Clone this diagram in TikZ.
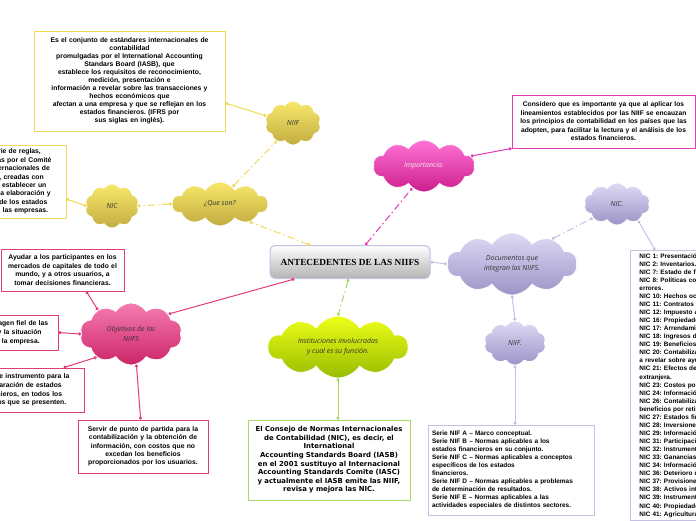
\documentclass[tikz,border=0pt]{standalone}
\usepackage{fontspec}
\setmainfont{Liberation Sans}
\newfontfamily\titulofont{Liberation Serif}
\newfontfamily\verdanafont{DejaVu Sans}
\newfontfamily\nubefont{Open Sans}
\usetikzlibrary{shapes.symbols,arrows.meta,calc}

\definecolor{amarillo}{HTML}{F2DA55}
\definecolor{amarilloA}{HTML}{F8E86A}
\definecolor{amarilloB}{HTML}{C2AC40}
\definecolor{magenta}{HTML}{E23AB8}
\definecolor{magentaA}{HTML}{FF74D6}
\definecolor{magentaB}{HTML}{CC1E8C}
\definecolor{rosa}{HTML}{E33A78}
\definecolor{rosaA}{HTML}{F57CB0}
\definecolor{rosaB}{HTML}{CC2468}
\definecolor{verde}{HTML}{A8D868}
\definecolor{verdeA}{HTML}{EEFF18}
\definecolor{verdeB}{HTML}{98BC00}
\definecolor{lila}{HTML}{C6C0E2}
\definecolor{lilaA}{HTML}{DEDAF4}
\definecolor{lilaB}{HTML}{9C94C8}

\tikzset{
  nube/.style={cloud, cloud puffs=10, cloud puff arc=115, cloud ignores aspect,
    inner sep=0pt, align=center, draw=white, line width=0.8pt, text=black!80,
    font=\nubefont\itshape\fontsize{7}{10}\selectfont},
  caja/.style={draw, line width=0.9pt, fill=white, align=center, inner sep=0pt,
    font=\bfseries\fontsize{6.8}{8}\selectfont},
  enlace/.style={line width=1pt, {Circle[length=3pt]}-{Circle[length=3pt]}},
  rayado/.style={enlace, dash pattern=on 7pt off 3pt on 1.5pt off 3pt},
}

\begin{document}
\frenchspacing
\begin{tikzpicture}[x=1pt, y=-1pt]

  %% ---- nodo central ----
  \node[rounded corners=5pt, draw=lila, line width=1pt, top color=white, bottom color=black!30,
        minimum width=160pt, minimum height=33pt,
        font=\titulofont\bfseries\fontsize{9.3}{11}\selectfont] (main) at (350,262) {ANTECEDENTES DE LAS NIIFS};

  %% ---- nubes ----
  \node[nube, top color=amarilloA, bottom color=amarilloB, minimum width=96pt, minimum height=44pt] (queson) at (220,204) {¿Que son?};
  \node[nube, top color=amarilloA, bottom color=amarilloB, minimum width=56pt, minimum height=44pt] (niif) at (293,123) {NIIF};
  \node[nube, top color=amarilloA, bottom color=amarilloB, minimum width=54pt, minimum height=44pt] (nic) at (112,206) {NIC};
  \node[nube, top color=magentaA, bottom color=magentaB, text=white!90!magenta, minimum width=102pt, minimum height=52pt] (importancia) at (424,166) {Importancia.};
  \node[nube, top color=rosaA, bottom color=rosaB, minimum width=102pt, minimum height=62pt] (objetivos) at (131,334) {Objetivos de las\\ NIIFS};
  \node[nube, top color=verdeA, bottom color=verdeB, minimum width=140pt, minimum height=62pt] (institu) at (338,347) {Instituciones involucradas\\ y cual es su función.};
  \node[nube, top color=lilaA, bottom color=lilaB, minimum width=130pt, minimum height=62pt] (documentos) at (512,264) {Documentos que\\ integran las NIIFS.};
  \node[nube, top color=lilaA, bottom color=lilaB, minimum width=66pt, minimum height=42pt] (nicdoc) at (617,204) {NIC.};
  \node[nube, top color=lilaA, bottom color=lilaB, minimum width=62pt, minimum height=44pt] (niifdoc) at (515,343) {NIIF.};

  %% ---- cajas de texto ----
  \node[caja, draw=amarillo, minimum width=191pt, minimum height=100pt, text width=187pt] (defniif) at (129.5,81)
    {Es el conjunto de estándares internacionales de\\ contabilidad\\ promulgadas por el International Accounting\\ Standars Board (IASB), que\\ establece los requisitos de reconocimiento,\\ medición, presentación e\\ información a revelar sobre las transacciones y\\ hechos económicos que\\ afectan a una empresa y que se reflejan en los\\ estados financieros. (IFRS por\\ sus siglas en inglés).};
  \node[caja, draw=amarillo, minimum width=130pt, minimum height=73pt, text width=126pt, font=\bfseries\fontsize{6.8}{8.4}\selectfont] (defnic) at (1,181.5)
    {Son una serie de reglas,\\ normas emitidas por el Comité\\ de Normas Internacionales de\\ Contabilidad, creadas con\\ el objetivo de establecer un\\ estándar para la elaboración y\\ presentación de los estados\\ financieros de las empresas.};
  \node[caja, draw=magenta, minimum width=183pt, minimum height=53pt, text width=180pt, font=\bfseries\fontsize{6.7}{8.5}\selectfont] (considero) at (603.5,121.5)
    {Considero que es importante ya que al aplicar los\\ lineamientos establecidos por las NIIF se encauzan\\ los principios de contabilidad en los países que las\\ adopten, para facilitar la lectura y el análisis de los\\ estados financieros.};
  \node[caja, draw=rosa, minimum width=123pt, minimum height=42pt, text width=121pt, font=\bfseries\fontsize{6.8}{8.4}\selectfont] (ayudar) at (62.5,270)
    {Ayudar a los participantes en los\\ mercados de capitales de todo el\\ mundo, y a otros usuarios, a\\ tomar decisiones financieras.};
  \node[caja, draw=rosa, minimum width=119pt, minimum height=35pt, text width=115pt, font=\bfseries\fontsize{6.8}{8.8}\selectfont] (imagen) at (-1.5,332.5)
    {Presentar la imagen fiel de las\\ operaciones y la situación\\ financiera de la empresa.};
  \node[caja, draw=rosa, minimum width=125pt, minimum height=44pt, text width=121pt, font=\bfseries\fontsize{6.8}{8.7}\selectfont] (instrumento) at (21.5,390)
    {Servir de instrumento para la\\ comparación de estados\\ financieros, en todos los\\ períodos que se presenten.};
  \node[caja, draw=rosa, minimum width=130pt, minimum height=53pt, text width=128pt, font=\bfseries\fontsize{6.8}{8.3}\selectfont] (servir) at (143,446.5)
    {Servir de punto de partida para la\\ contabilización y la obtención de\\ información, con costos que no\\ excedan los beneficios\\ proporcionados por los usuarios.};
  \node[caja, draw=verde, minimum width=162pt, minimum height=80pt, text width=160pt, font=\verdanafont\bfseries\fontsize{6.9}{8.6}\selectfont] (consejo) at (329,460)
    {El Consejo de Normas Internacionales\\ de Contabilidad (NIC), es decir, el\\ International\\ Accounting Standards Board (IASB)\\ en el 2001 sustituyo al Internacional\\ Accounting Standards Comite (IASC)\\ y actualmente el IASB emite las NIIF,\\ revisa y mejora las NIC.};
  \node[caja, draw=lila, align=left, minimum width=166pt, minimum height=90pt, text width=158pt, font=\bfseries\fontsize{6.45}{8}\selectfont] (series) at (511,470)
    {Serie NIF A – Marco conceptual.\\ Serie NIF B – Normas aplicables a los\\ estados financieros en su conjunto.\\ Serie NIF C – Normas aplicables a conceptos\\ específicos de los estados\\ financieros.\\ Serie NIF D – Normas aplicables a problemas\\ de determinación de resultados.\\ Serie NIF E – Normas aplicables a las\\ actividades especiales de distintos sectores.};
  \node[caja, draw=lila, align=left, anchor=north west, inner xsep=9pt, inner ysep=3pt, text width=200pt, font=\bfseries\fontsize{6.4}{8.06}\selectfont] (listanic) at (630,250)
    {NIC 1: Presentación\\ NIC 2: Inventarios.\\ NIC 7: Estado de flujos\\ NIC 8: Políticas contables\\ errores.\\ NIC 10: Hechos ocurridos\\ NIC 11: Contratos de\\ NIC 12: Impuesto a\\ NIC 16: Propiedades,\\ NIC 17: Arrendamientos.\\ NIC 18: Ingresos de\\ NIC 19: Beneficios a\\ NIC 20: Contabilización\\ a revelar sobre ayudas\\ NIC 21: Efectos de las\\ extranjera.\\ NIC 23: Costos por\\ NIC 24: Información a\\ NIC 26: Contabilización\\ beneficios por retiro.\\ NIC 27: Estados financieros\\ NIC 28: Inversiones en\\ NIC 29: Información\\ NIC 31: Participaciones\\ NIC 32: Instrumentos\\ NIC 33: Ganancias por\\ NIC 34: Información\\ NIC 36: Deterioro del\\ NIC 37: Provisiones,\\ NIC 38: Activos intangibles.\\ NIC 39: Instrumentos\\ NIC 40: Propiedades de\\ NIC 41: Agricultura.};

  %% ---- enlaces ----
  \draw[rayado, amarillo] (main.157) -- (queson.-31);
  \draw[rayado, amarillo] (queson.54) -- (niif.228);
  \draw[rayado, amarillo] (queson.west) -- (nic.east);
  \draw[enlace, amarillo] (niif.165) -- (defniif.-13);
  \draw[enlace, amarillo] (nic.west) -- (defnic.-15);
  \draw[rayado, magenta] (main.48) -- (importancia.242);
  \draw[enlace, magenta] (importancia.12) -- (considero.south west);
  \draw[enlace, rosa] (main.197) -- (objetivos.28);
  \draw[enlace, rosa] (objetivos.144) -- (ayudar.-42);
  \draw[enlace, rosa] (objetivos.west) -- (imagen.east);
  \draw[enlace, rosa] (objetivos.214) -- (instrumento.28);
  \draw[enlace, rosa] (objetivos.-80) -- (servir.95);
  \draw[rayado, verde] (main.-95) -- (institu.north);
  \draw[enlace, verde] (institu.south) -- (institu.south |- consejo.north);
  \draw[enlace, lila] (main.east) -- (documentos.west);
  \draw[rayado, lila] (documentos.32) -- (nicdoc.210);
  \draw[enlace, lila] (nicdoc.-38) -- ($(listanic.north west)+(25,0)$);
  \draw[enlace, lila] (documentos.south) -- (niifdoc.north);
  \draw[enlace, lila] (niifdoc.south) -- (niifdoc.south |- series.north);

  \pgfresetboundingbox
  \path[use as bounding box] (0,0) rectangle (696,520);
\end{tikzpicture}
\end{document}
